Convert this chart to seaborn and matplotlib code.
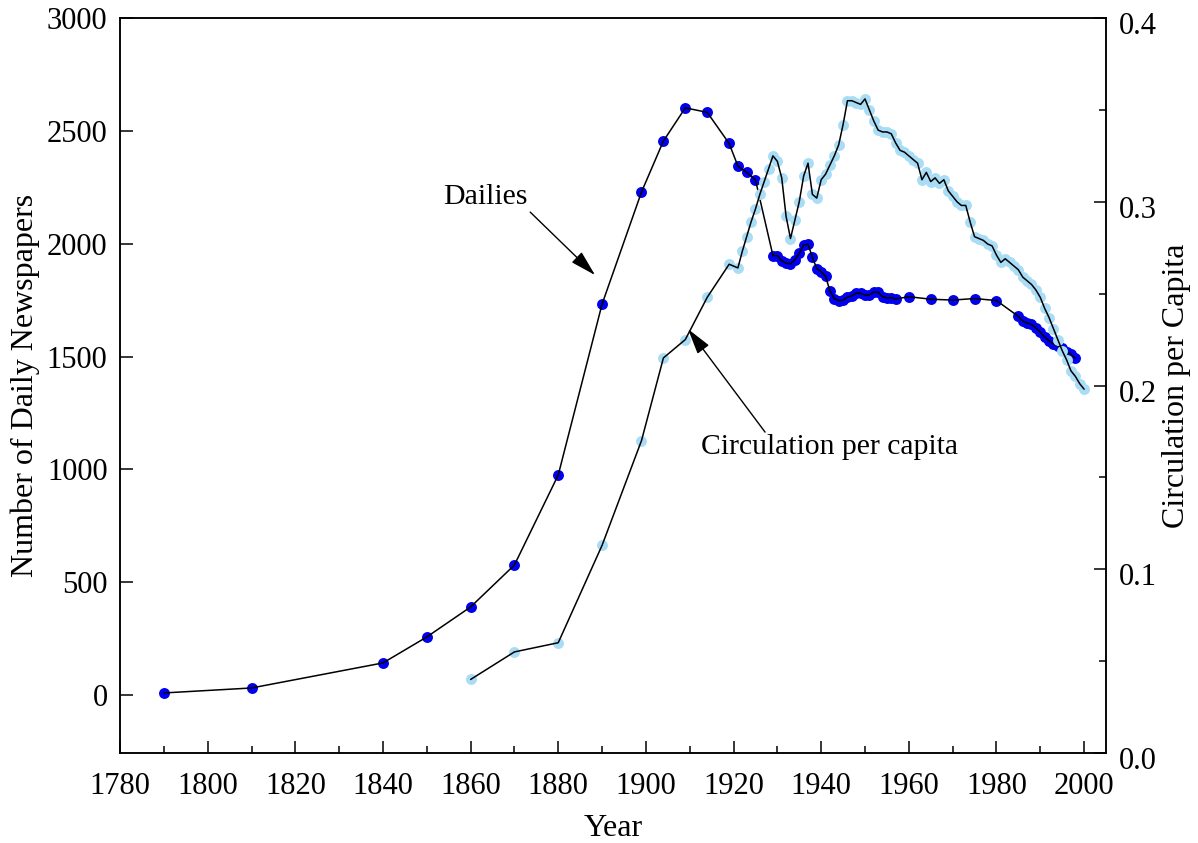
import matplotlib.pyplot as plt
import matplotlib.ticker as mticker
import matplotlib.transforms as mtransforms
import pandas as pd
import seaborn as sns

# =============================================================================
# Data
# =============================================================================
# --- Number of daily newspapers (left axis) ---
dailies_years = [1790, 1810, 1840, 1850, 1860, 1870, 1880, 1890, 1899, 1904,
                 1909, 1914, 1919, 1921, 1923, 1925,
                 1929, 1930, 1931, 1932, 1933, 1934, 1935, 1936, 1937, 1938,
                 1939, 1940, 1941, 1942, 1943, 1944, 1945, 1946, 1947, 1948,
                 1949, 1950, 1951, 1952, 1953, 1954, 1955, 1956, 1957,
                 1960, 1965, 1970, 1975, 1980,
                 1985, 1986, 1987, 1988, 1989, 1990, 1991, 1992, 1993, 1994,
                 1995, 1996, 1997, 1998]
dailies_count = [9, 31, 142, 257, 390, 576, 975, 1732, 2229, 2455,
                 2602, 2582, 2444, 2344, 2316, 2283,
                 1947, 1947, 1925, 1913, 1911, 1929, 1957, 1994, 1998, 1939,
                 1890, 1876, 1856, 1791, 1757, 1747, 1750, 1763, 1769, 1781,
                 1780, 1772, 1773, 1786, 1785, 1765, 1760, 1761, 1755,
                 1765, 1754, 1750, 1757, 1748,
                 1678, 1657, 1648, 1642, 1626, 1608, 1586, 1570, 1556, 1548,
                 1538, 1522, 1509, 1493]

# --- Circulation per capita (right axis) ---
circ_years = [1860, 1870, 1880, 1890, 1899, 1904, 1909, 1914, 1919,
              1921, 1922, 1923, 1924, 1925, 1926, 1927, 1928, 1929, 1930,
              1931, 1932, 1933, 1934, 1935, 1936, 1937, 1938, 1939, 1940,
              1941, 1942, 1943, 1944, 1945, 1946, 1947, 1948, 1949, 1950,
              1951, 1952, 1953, 1954, 1955, 1956, 1957, 1958, 1959, 1960,
              1961, 1962, 1963, 1964, 1965, 1966, 1967, 1968, 1969, 1970,
              1971, 1972, 1973, 1974, 1975, 1976, 1977, 1978, 1979, 1980,
              1981, 1982, 1983, 1984, 1985, 1986, 1987, 1988, 1989, 1990,
              1991, 1992, 1993, 1994, 1995, 1996, 1997, 1998, 1999, 2000]
circ_per_capita = [0.040, 0.055, 0.060, 0.113, 0.170, 0.215, 0.225, 0.248, 0.266,
                   0.264, 0.273, 0.281, 0.289, 0.296, 0.304, 0.311, 0.318, 0.325, 0.322,
                   0.313, 0.292, 0.280, 0.290, 0.300, 0.314, 0.321, 0.304, 0.302, 0.312,
                   0.315, 0.320, 0.325, 0.331, 0.342, 0.355, 0.355, 0.354, 0.353, 0.356,
                   0.350, 0.344, 0.339, 0.338, 0.338, 0.337, 0.332, 0.328, 0.327, 0.325,
                   0.323, 0.321, 0.312, 0.316, 0.311, 0.313, 0.310, 0.312, 0.306, 0.303,
                   0.300, 0.298, 0.298, 0.289, 0.281, 0.280, 0.279, 0.277, 0.276, 0.271,
                   0.267, 0.269, 0.267, 0.265, 0.263, 0.259, 0.257, 0.255, 0.252, 0.248,
                   0.242, 0.237, 0.231, 0.225, 0.219, 0.214, 0.208, 0.205, 0.201, 0.198]

DARK_BLUE = "#0000EE"
LIGHT_BLUE = "#A9DDF6"

# =============================================================================
# Style
# =============================================================================
sns.set_style("white")
plt.rcParams["font.family"] = ["Liberation Serif", "DejaVu Serif"]
plt.rcParams.update({
    "axes.edgecolor": "black",
    "axes.linewidth": 1.1,
    "text.color": "black",
    "axes.labelcolor": "black",
    "xtick.color": "black",
    "ytick.color": "black",
    "xtick.labelsize": 22,
    "ytick.labelsize": 22,
    "axes.labelsize": 23,
})

# =============================================================================
# Plot
# =============================================================================
fig = plt.figure(figsize=(11.98, 8.43), dpi=100)
ax = fig.add_axes([0.1002, 0.1068, 0.8230, 0.8718])
ax2 = ax.twinx()

dailies = pd.DataFrame({"year": dailies_years, "count": dailies_count})
circ = pd.DataFrame({"year": circ_years, "per_capita": circ_per_capita})

sns.scatterplot(data=dailies, x="year", y="count", ax=ax, color=DARK_BLUE,
                s=62, linewidth=0, zorder=2)
sns.lineplot(data=dailies, x="year", y="count", ax=ax, color="black",
             linewidth=1.1, estimator=None, sort=False, zorder=3)

sns.scatterplot(data=circ, x="year", y="per_capita", ax=ax2, color=LIGHT_BLUE,
                s=62, linewidth=0, zorder=2)
sns.lineplot(data=circ, x="year", y="per_capita", ax=ax2, color="black",
             linewidth=1.1, estimator=None, sort=False, zorder=3)

# --- Axes limits and ticks ---
ax.set_xlim(1780, 2005)
ax.set_ylim(-257, 3000)
ax2.set_ylim(0, 0.4)

ax.xaxis.set_major_locator(mticker.MultipleLocator(20))
ax.xaxis.set_minor_locator(mticker.MultipleLocator(10))
ax.yaxis.set_major_locator(mticker.MultipleLocator(500))
ax2.yaxis.set_major_locator(mticker.MultipleLocator(0.1))
ax2.yaxis.set_minor_locator(mticker.MultipleLocator(0.05))
ax2.yaxis.set_major_formatter(mticker.FormatStrFormatter("%.1f"))

ax.tick_params(axis="x", which="both", direction="in", bottom=True, top=False, pad=14)
ax.tick_params(axis="x", which="major", length=9, width=1.1)
ax.tick_params(axis="x", which="minor", length=5, width=1.1)
ax.tick_params(axis="y", which="major", direction="in", left=True, right=False,
               length=9, width=1.1, pad=9)
ax2.tick_params(axis="y", which="both", direction="in", right=True, left=False,
                labelright=True, width=1.1, pad=9)
ax2.tick_params(axis="y", which="major", length=9)
ax2.tick_params(axis="y", which="minor", length=5)

# right tick labels sit a little below their ticks in the original
shift = mtransforms.ScaledTranslation(0, -5 / 100, fig.dpi_scale_trans)
for lab in ax2.get_yticklabels():
    lab.set_transform(lab.get_transform() + shift)

ax.set_xlabel("Year", labelpad=9)
ax.set_ylabel("Number of Daily Newspapers", labelpad=5)
ax2.set_xlabel("")
ax2.set_ylabel("Circulation per Capita", fontsize=23, labelpad=4)

# --- Annotations ---
arrow = dict(arrowstyle="-|>,head_length=0.8,head_width=0.22", color="black",
             lw=1.0, mutation_scale=20, shrinkA=0, shrinkB=0)
ax.annotate("", xy=(1888.4, 1861), xytext=(1873.6, 2140), arrowprops=arrow)
ax.text(1863.3, 2206, "Dailies", fontsize=21.5, ha="center", va="center")

ax.annotate("", xy=(1909.6, 1622), xytext=(1927.2, 1165), arrowprops=arrow)
ax.text(1942.0, 1099, "Circulation per capita", fontsize=21.3, ha="center", va="center")

plt.savefig("out.png", dpi=100)
